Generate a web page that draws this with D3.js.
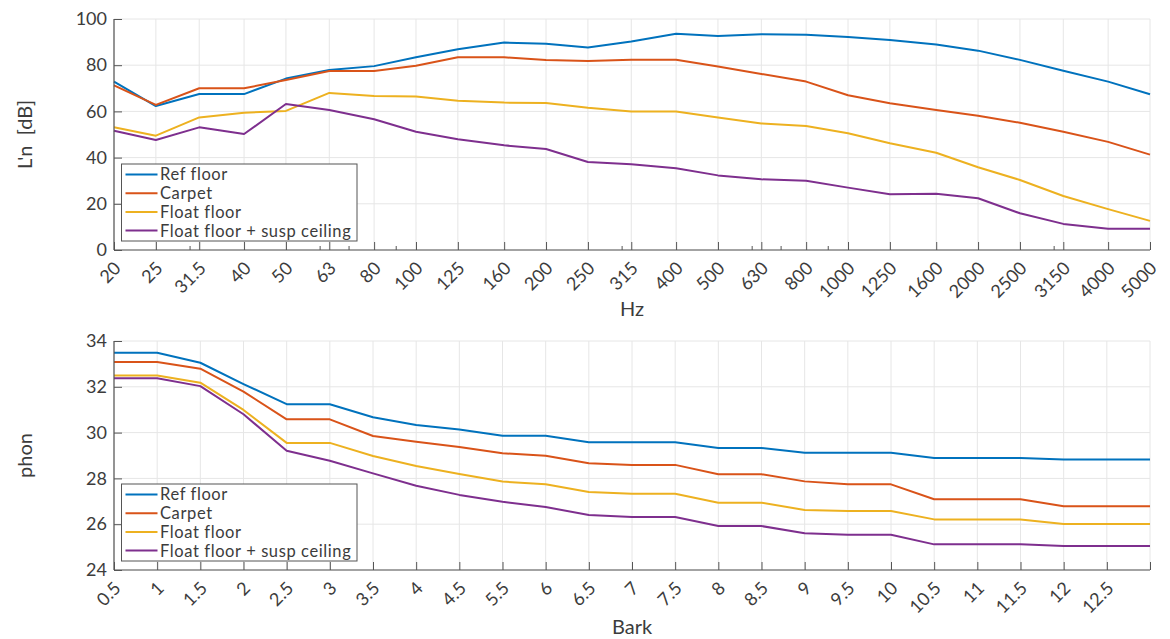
<!DOCTYPE html>
<html>
<head>
<meta charset="utf-8">
<script src="https://cdn.jsdelivr.net/npm/d3@7/dist/d3.min.js"></script>
<style>
  html, body { margin: 0; padding: 0; background: #fff; }
  svg { display: block; }
  text { font-family: Lato, "Noto Sans", sans-serif; fill: #3c3c3c; }
</style>
</head>
<body>
<svg id="chart" width="1170" height="639"></svg>
<script>
// Third-octave band centre frequencies (Hz)
const freqs = [20, 25, 31.5, 40, 50, 63, 80, 100, 125, 160, 200, 250, 315, 400, 500,
               630, 800, 1000, 1250, 1600, 2000, 2500, 3150, 4000, 5000];
const freqLabels = ["20", "25", "31.5", "40", "50", "63", "80", "100", "125", "160", "200",
                    "250", "315", "400", "500", "630", "800", "1000", "1250", "1600", "2000",
                    "2500", "3150", "4000", "5000"];
const freqMinorTicks = [30, 60, 70, 90, 300, 600, 700, 900, 3000];

// Normalised impact sound pressure level L'n [dB]
const lnRefFloor   = [72.9, 62.3, 67.5, 67.5, 74.2, 77.9, 79.6, 83.4, 86.9, 89.8, 89.3, 87.7, 90.3,
                      93.6, 92.6, 93.4, 93.2, 92.2, 90.9, 89.0, 86.3, 82.3, 77.6, 72.9, 67.4];
const lnCarpet     = [71.3, 62.8, 70.0, 70.0, 73.6, 77.5, 77.5, 79.8, 83.4, 83.4, 82.3, 81.8, 82.4,
                      82.4, 79.4, 76.2, 72.9, 67.0, 63.5, 60.6, 58.1, 55.1, 51.2, 46.8, 41.3];
const lnFloatFloor = [53.1, 49.5, 57.4, 59.4, 60.2, 68.0, 66.7, 66.4, 64.6, 63.8, 63.6, 61.6, 60.0,
                      60.0, 57.4, 54.8, 53.7, 50.5, 46.2, 42.1, 35.8, 30.3, 23.4, 17.7, 12.6];
const lnFloatSusp  = [51.6, 47.6, 53.1, 50.2, 63.2, 60.6, 56.6, 51.2, 47.9, 45.3, 43.7, 38.1, 37.1,
                      35.4, 32.3, 30.6, 30.0, 27.0, 24.1, 24.4, 22.4, 15.9, 11.3, 9.2, 9.2];
const lnTicks = [0, 20, 40, 60, 80, 100];

// Loudness level per critical band (Bark)
const barkLabels = ["0.5", "1", "1.5", "2", "2.5", "3", "3.5", "4", "4.5", "5.5", "6", "6.5", "7",
                    "7.5", "8", "8.5", "9", "9.5", "10", "10.5", "11", "11.5", "12", "12.5", ""];
const phonRefFloor   = [33.49, 33.49, 33.05, 32.12, 31.24, 31.24, 30.67, 30.33, 30.14, 29.86, 29.86, 29.58, 29.58,
                        29.58, 29.33, 29.33, 29.12, 29.12, 29.12, 28.89, 28.89, 28.89, 28.83, 28.83, 28.83];
const phonCarpet     = [33.08, 33.08, 32.79, 31.79, 30.58, 30.58, 29.85, 29.60, 29.37, 29.10, 28.99, 28.66, 28.59,
                        28.59, 28.18, 28.18, 27.87, 27.74, 27.74, 27.09, 27.09, 27.09, 26.78, 26.78, 26.78];
const phonFloatFloor = [32.49, 32.49, 32.18, 30.99, 29.55, 29.55, 28.98, 28.54, 28.19, 27.86, 27.74, 27.41, 27.33,
                        27.33, 26.94, 26.94, 26.62, 26.58, 26.58, 26.21, 26.21, 26.21, 26.01, 26.01, 26.01];
const phonFloatSusp  = [32.37, 32.37, 32.03, 30.80, 29.21, 28.77, 28.22, 27.68, 27.28, 26.98, 26.75, 26.40, 26.31,
                        26.31, 25.92, 25.92, 25.60, 25.54, 25.54, 25.12, 25.12, 25.12, 25.05, 25.05, 25.05];
const phonTicks = [24, 26, 28, 30, 32, 34];

const seriesNames  = ["Ref floor", "Carpet", "Float floor", "Float floor + susp ceiling"];
const seriesColors = ["#0072BD", "#D95319", "#EDB120", "#7E2F8E"];

const svg = d3.select("#chart");
const AXIS = "#555";
const GRID = "#e6e6e6";
const plotLeft = 114, plotRight = 1150;

function drawPanel(opts) {
  const g = svg.append("g");
  const x = opts.x, y = opts.y;
  const [top, bottom] = [opts.top, opts.bottom];

  // grid
  const grid = g.append("g");
  grid.selectAll("line.gx").data(opts.xTicks).join("line")
    .attr("x1", d => x(d)).attr("x2", d => x(d))
    .attr("y1", top).attr("y2", bottom)
    .attr("stroke", GRID).attr("stroke-width", 1);
  grid.selectAll("line.gy").data(opts.yTicks).join("line")
    .attr("x1", plotLeft).attr("x2", plotRight)
    .attr("y1", d => y(d)).attr("y2", d => y(d))
    .attr("stroke", GRID).attr("stroke-width", 1);

  // series
  const line = d3.line().x((d, i) => x(opts.xValues[i])).y(d => y(d));
  opts.series.forEach((vals, k) => {
    g.append("path").datum(vals)
      .attr("d", line)
      .attr("fill", "none")
      .attr("stroke", seriesColors[k])
      .attr("stroke-width", 2)
      .attr("stroke-linejoin", "round");
  });

  // x axis (ticks point inward), labels slanted at 45 degrees
  const xAxis = d3.axisBottom(x).tickValues(opts.xTicks).tickFormat((d, i) => opts.xLabels[i])
    .tickSizeInner(-8).tickSizeOuter(0);
  const xg = g.append("g").attr("transform", `translate(0,${bottom})`).call(xAxis);
  xg.select(".domain").attr("stroke", AXIS).attr("stroke-width", 1.2)
    .attr("d", `M${plotLeft},0H${plotRight}`);
  xg.selectAll(".tick line").attr("stroke", AXIS);
  xg.selectAll(".tick text")
    .attr("font-size", 18)
    .attr("fill", "#3c3c3c")
    .attr("text-anchor", "end")
    .attr("x", 0).attr("y", 0)
    .attr("dy", "0.35em")
    .attr("transform", "translate(3,15) rotate(-45)");

  if (opts.minorTicks) {
    xg.selectAll("line.minor").data(opts.minorTicks).join("line")
      .attr("class", "minor")
      .attr("x1", d => x(d)).attr("x2", d => x(d))
      .attr("y1", 0).attr("y2", -4)
      .attr("stroke", AXIS);
  }

  // y axis (ticks point inward)
  const yAxis = d3.axisLeft(y).tickValues(opts.yTicks).tickSizeInner(-8).tickSizeOuter(0).tickPadding(7);
  const yg = g.append("g").attr("transform", `translate(${plotLeft},0)`).call(yAxis);
  yg.select(".domain").attr("stroke", AXIS).attr("stroke-width", 1.2)
    .attr("d", `M0,${top}V${bottom}`);
  yg.selectAll(".tick line").attr("stroke", AXIS);
  yg.selectAll(".tick text").attr("font-size", 18).attr("fill", "#3c3c3c");

  // axis titles
  g.append("text").attr("x", (plotLeft + plotRight) / 2).attr("y", opts.xTitleY)
    .attr("text-anchor", "middle").attr("font-size", 20).text(opts.xTitle);
  g.append("text").attr("transform", `translate(32,${(top + bottom) / 2}) rotate(-90)`)
    .attr("text-anchor", "middle").attr("font-size", 20)
    .attr("xml:space", "preserve").text(opts.yTitle);

  // legend
  const lg = g.append("g").attr("transform", `translate(121.5,${opts.legendTop})`);
  lg.append("rect").attr("width", 235.5).attr("height", 77)
    .attr("fill", "#fff").attr("stroke", "#555").attr("stroke-width", 1);
  seriesNames.forEach((name, k) => {
    const cy = 10.5 + k * 18.7;
    lg.append("line").attr("x1", 4).attr("x2", 36).attr("y1", cy).attr("y2", cy)
      .attr("stroke", seriesColors[k]).attr("stroke-width", 2);
    lg.append("text").attr("x", 38.5).attr("y", cy).attr("dy", "0.36em")
      .attr("font-size", 16.5).attr("letter-spacing", 0.6)
      .attr("fill", "#333").text(name);
  });
}

// Upper panel: L'n vs frequency (log axis)
const xHz = d3.scaleLog().domain([20, 5000]).range([plotLeft, plotRight]);
const yLn = d3.scaleLinear().domain([0, 100]).range([250, 19]);
drawPanel({
  x: xHz, y: yLn, top: 19, bottom: 250,
  xValues: freqs, xTicks: freqs, xLabels: freqLabels, minorTicks: freqMinorTicks,
  yTicks: lnTicks,
  series: [lnRefFloor, lnCarpet, lnFloatFloor, lnFloatSusp],
  xTitle: "Hz", xTitleY: 316, yTitle: "L'n  [dB]", legendTop: 164
});

// Lower panel: loudness vs critical band
const barkIdx = barkLabels.map((d, i) => i);
const xBark = d3.scaleLinear().domain([0, barkLabels.length - 1]).range([plotLeft, plotRight]);
const yPhon = d3.scaleLinear().domain([24, 34]).range([570, 341]);
drawPanel({
  x: xBark, y: yPhon, top: 341, bottom: 570,
  xValues: barkIdx, xTicks: barkIdx, xLabels: barkLabels,
  yTicks: phonTicks,
  series: [phonRefFloor, phonCarpet, phonFloatFloor, phonFloatSusp],
  xTitle: "Bark", xTitleY: 634, yTitle: "phon", legendTop: 484
});
</script>
</body>
</html>
